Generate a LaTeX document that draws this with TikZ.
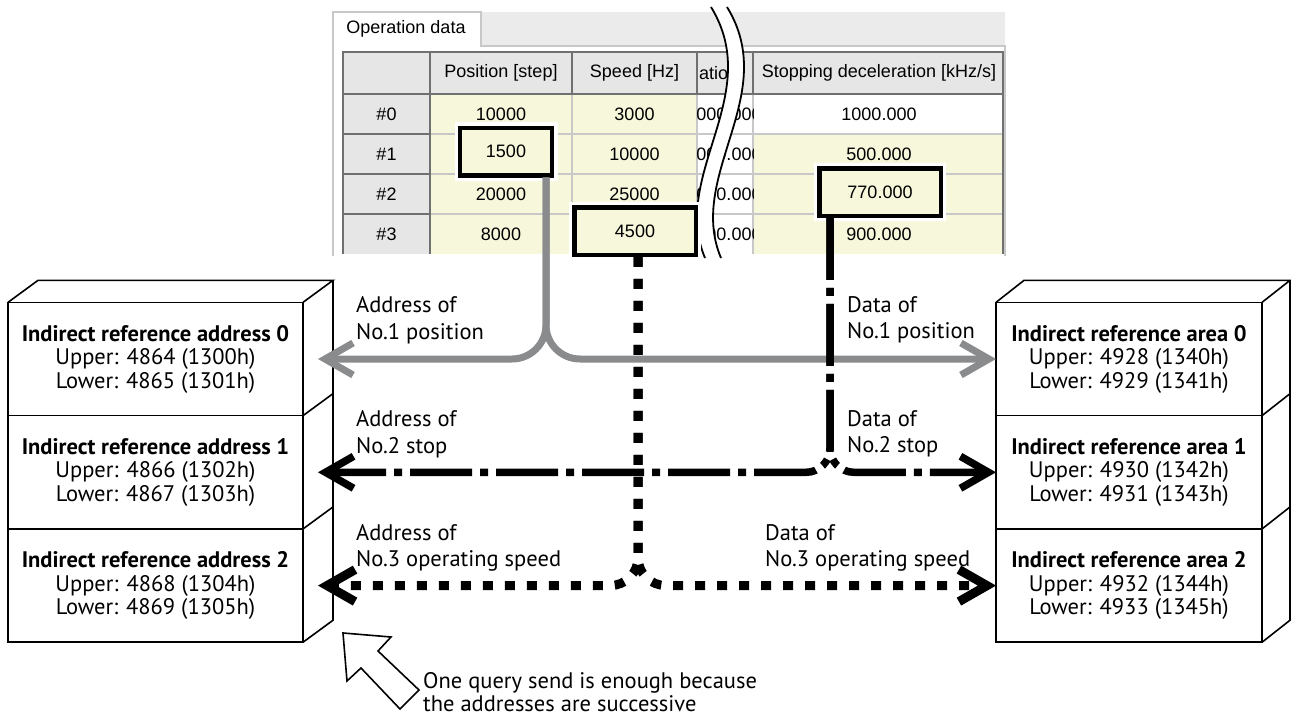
\documentclass[tikz,border=0pt]{standalone}
\usepackage{fontspec}
\setmainfont{PT Sans}
\newfontfamily\tabfont{Liberation Sans}
\usetikzlibrary{arrows.meta,positioning,calc}

\definecolor{cellyellow}{HTML}{F7F7DC}
\definecolor{hdrgray}{HTML}{E6E6E6}
\definecolor{tabgray}{HTML}{EBEBEB}
\definecolor{gridgray}{HTML}{C8C8C8}
\definecolor{framegray}{HTML}{707070}
\definecolor{posgray}{HTML}{8A8B8D}

\begin{document}
\begin{tikzpicture}[x=1pt,y=-1pt,
  regbox/.style={draw,line width=1.6pt,inner sep=0pt,outer sep=0pt,minimum height=113.3pt,align=center,font=\fontsize{22.5}{23.5}\selectfont},
  cell/.style={inner sep=0pt,font=\tabfont\fontsize{18}{20}\selectfont},
  hlbox/.style={draw,line width=4.5pt,fill=cellyellow,preaction={draw=white,line width=11pt},inner sep=0pt,outer sep=0pt,minimum height=47.5pt,font=\tabfont\fontsize{18}{20}\selectfont},
  lbl/.style={anchor=west,align=left,inner sep=0pt,font=\fontsize{22.5}{26.5}\selectfont},
  posline/.style={draw=posgray,line width=7pt,rounded corners=34pt,-{Straight Barb[length=28pt,width=32pt]}},
  stopline/.style={line width=7.5pt,rounded corners=24pt,dash pattern=on 62pt off 8pt on 8pt off 8pt,-{Straight Barb[length=28pt,width=32pt]}},
  speedline/.style={line width=9pt,rounded corners=28pt,dash pattern=on 10pt off 12pt,-{Straight Barb[length=28pt,width=32pt]}}]
\useasboundingbox (0,0) rectangle (1291,717);

% screenshot of the operation data table
\fill[white] (333,12) rectangle (481,50);
\fill[tabgray] (481,12) rectangle (1005,46);
\draw[gridgray,line width=1.2pt] (333,256) -- (333,12) -- (481,12) -- (481,46) -- (1005,46) -- (1005,256);
\node[cell] (tab) at (406,29) {Operation data};
\fill[hdrgray] (343,52) rectangle (1003,94);
\fill[hdrgray] (343,94) rectangle (430,254);
\fill[cellyellow] (430,94) rectangle (697,254);
\fill[white] (697,94) rectangle (753,254);
\fill[cellyellow] (753,134) rectangle (1003,254);
\draw[gridgray,line width=1.2pt] (430,134) -- (1003,134) (430,174) -- (1003,174) (430,214) -- (1003,214)
  (572,94) -- (572,254) (697,94) -- (697,254) (753,94) -- (753,254);
\draw[framegray,line width=1.2pt] (343,94) -- (1003,94) (430,52) -- (430,254) (572,52) -- (572,94)
  (697,52) -- (697,94) (753,52) -- (753,94) (343,134) -- (430,134) (343,174) -- (430,174) (343,214) -- (430,214);
\draw[framegray,line width=2pt] (343,254) -- (343,52) -- (1003,52) -- (1003,254);

\node[cell] (hpos) at (501,73) {Position [step]};
\node[cell] (hspd) at (634.5,73) {Speed [Hz]};
\node[cell] (hdec) at (879,73) {Stopping deceleration [kHz/s]};
\begin{scope}
\clip (697,52) rectangle (753,254);
\node[cell,anchor=west] (hacc) at (699,73) {atio};
\node[cell] (a0) at (729,114) {000.000};
\node[cell] (a1) at (729,154) {000.000};
\node[cell] (a2) at (729,194) {000.000};
\node[cell] (a3) at (729,234) {000.000};
\end{scope}
\node[cell] (r0) at (386.5,114) {\#0};
\node[cell] (r1) at (386.5,154) {\#1};
\node[cell] (r2) at (386.5,194) {\#2};
\node[cell] (r3) at (386.5,234) {\#3};
\node[cell] (p0) at (501,114) {10000};
\node[cell] (p2) at (501,194) {20000};
\node[cell] (p3) at (501,234) {8000};
\node[cell] (s0) at (634.5,114) {3000};
\node[cell] (s1) at (634.5,154) {10000};
\node[cell] (s2) at (634.5,194) {25000};
\node[cell] (d0) at (879,114) {1000.000};
\node[cell] (d1) at (879,154) {500.000};
\node[cell] (d3) at (879,234) {900.000};

% break mark
\fill[white] (711,7) .. controls (765,95) and (670,175) .. (705,258) -- (721,258)
  .. controls (686,175) and (781,95) .. (727,7) -- cycle;
\draw[line width=1.8pt] (711,7) .. controls (765,95) and (670,175) .. (705,258)
  (727,7) .. controls (781,95) and (686,175) .. (721,258);

% picked values
\node[hlbox,minimum width=92pt] (pos1) at (506,151.5) {1500};
\node[hlbox,minimum width=121.5pt] (spd3) at (635,231) {4500};
\node[hlbox,minimum width=121.5pt] (dec2) at (880,192) {770.000};

% register stacks
\node[regbox,minimum width=295pt] (addr0) at (155.5,359) {\textbf{Indirect reference address 0}\\Upper: 4864 (1300h)\\Lower: 4865 (1301h)};
\node[regbox,minimum width=295pt,below=0pt of addr0] (addr1) {\textbf{Indirect reference address 1}\\Upper: 4866 (1302h)\\Lower: 4867 (1303h)};
\node[regbox,minimum width=295pt,below=0pt of addr1] (addr2) {\textbf{Indirect reference address 2}\\Upper: 4868 (1304h)\\Lower: 4869 (1305h)};
\draw[line width=1.6pt] (addr0.north west) -- ++(30,-22) -- ++(295,0) -- (addr0.north east)
  ($(addr0.north east)+(30,-22)$) -- ($(addr2.south east)+(30,-22)$) -- (addr2.south east)
  (addr0.south east) -- ++(30,-22) (addr1.south east) -- ++(30,-22);

\node[regbox,minimum width=266pt] (area0) at (1129,359) {\textbf{Indirect reference area 0}\\Upper: 4928 (1340h)\\Lower: 4929 (1341h)};
\node[regbox,minimum width=266pt,below=0pt of area0] (area1) {\textbf{Indirect reference area 1}\\Upper: 4930 (1342h)\\Lower: 4931 (1343h)};
\node[regbox,minimum width=266pt,below=0pt of area1] (area2) {\textbf{Indirect reference area 2}\\Upper: 4932 (1344h)\\Lower: 4933 (1345h)};
\draw[line width=1.6pt] (area0.north west) -- ++(28,-22) -- ++(266,0) -- (area0.north east)
  ($(area0.north east)+(28,-22)$) -- ($(area2.south east)+(28,-22)$) -- (area2.south east)
  (area0.south east) -- ++(28,-22) (area1.south east) -- ++(28,-22);

% connectors
\draw[posline] ($(pos1.south)+(40,2)$) |- ($(addr0.east)+(15,0)$);
\draw[posline] ($(pos1.south)+(40,2)$) |- (area0.west);
\draw[stopline] ($(dec2.south)+(-50,2)$) |- ($(addr1.east)+(15,0)$);
\draw[stopline] ($(dec2.south)+(-50,2)$) |- (area1.west);
\draw[speedline] ($(spd3.south)+(3,2)$) |- ($(addr2.east)+(15,0)$);
\draw[speedline] ($(spd3.south)+(3,2)$) |- (area2.west);

\node[lbl] (adr1) at (356,320) {Address of\\No.1 position};
\node[lbl] (dat1) at (847,320) {Data of\\No.1 position};
\node[lbl] (adr2) at (356,434) {Address of\\No.2 stop};
\node[lbl] (dat2) at (847,434) {Data of\\No.2 stop};
\node[lbl] (adr3) at (356,548) {Address of\\No.3 operating speed};
\node[lbl] (dat3) at (765,548) {Data of\\No.3 operating speed};

% note
\draw[line width=1.6pt,fill=white] (343,633) -- (391,637) -- (378,651) -- (419,690) -- (400,709)
  -- (361,668) -- (347,681) -- cycle;
\node[lbl,font=\fontsize{22.5}{23.5}\selectfont] (note) at (423,692) {One query send is enough because\\the addresses are successive};
\end{tikzpicture}
\end{document}
